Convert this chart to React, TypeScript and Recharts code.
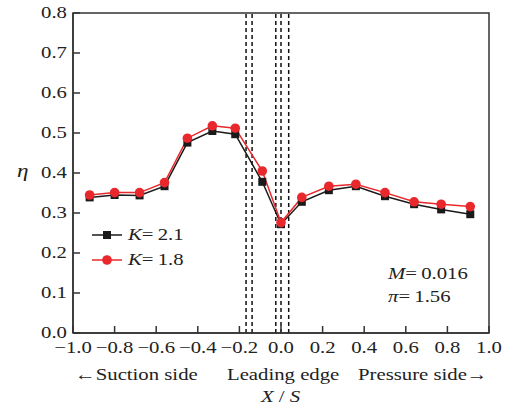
import React from 'react';
import {
  LineChart,
  Line,
  XAxis,
  YAxis,
  ReferenceLine,
  ReferenceArea,
  Legend,
} from 'recharts';

// X / S positions of the measuring holes
const xPos = [-0.92, -0.8, -0.68, -0.56, -0.45, -0.33, -0.22, -0.09, 0.0, 0.1, 0.23, 0.36, 0.5, 0.64, 0.77, 0.91];
// film cooling effectiveness for the two blowing ratios
const etaK21 = [0.339, 0.345, 0.344, 0.367, 0.476, 0.505, 0.497, 0.378, 0.272, 0.328, 0.357, 0.367, 0.342, 0.322, 0.309, 0.297];
const etaK18 = [0.345, 0.351, 0.351, 0.376, 0.487, 0.518, 0.512, 0.405, 0.276, 0.339, 0.367, 0.372, 0.351, 0.328, 0.322, 0.316];
// hole rows around the leading edge
const holeRows = [-0.168, -0.139, -0.025, 0.0, 0.037];

const xTicks = [-1, -0.8, -0.6, -0.4, -0.2, 0, 0.2, 0.4, 0.6, 0.8, 1];
const yTicks = [0, 0.1, 0.2, 0.3, 0.4, 0.5, 0.6, 0.7, 0.8];

const data = xPos.map((x, i) => ({ x, k21: etaK21[i], k18: etaK18[i] }));

const FONT = '"Liberation Serif", "Times New Roman", serif';
const FS = 17;
const STRETCH = 1.22;
const BLACK = '#1a1a1a';
const RED = '#e8282c';

const fmt = (v: number) => {
  const s = Math.abs(v).toFixed(1);
  return v < 0 ? `\u2212${s}` : s;
};

const XTick = (props: any) => {
  const { x, y, payload } = props;
  return (
    <text
      transform={`translate(${x},${y}) scale(${STRETCH},1)`}
      textAnchor="middle"
      dy="0.71em"
      fontFamily={FONT}
      fontSize={FS}
      fill="#222"
    >
      {fmt(payload.value)}
    </text>
  );
};

const YTick = (props: any) => {
  const { x, y, payload } = props;
  return (
    <text
      transform={`translate(${x},${y}) scale(${STRETCH},1)`}
      textAnchor="end"
      dy="0.32em"
      fontFamily={FONT}
      fontSize={FS}
      fill="#222"
    >
      {fmt(payload.value)}
    </text>
  );
};

const SquareDot = (props: any) => {
  const { cx, cy, index } = props;
  if (cx == null || cy == null) return null;
  return <rect key={`sq-${index}`} x={cx - 4} y={cy - 4} width={8} height={8} fill={BLACK} />;
};

const RoundDot = (props: any) => {
  const { cx, cy, index } = props;
  if (cx == null || cy == null) return null;
  return <circle key={`ci-${index}`} cx={cx} cy={cy} r={4.8} fill={RED} />;
};

const seriesOrder = ['k21', 'k18'];
const legendLabels: Record<string, string> = { k21: '2.1', k18: '1.8' };

const LegendContent = (props: any) => {
  const items = [...(props.payload || [])].sort(
    (a: any, b: any) => seriesOrder.indexOf(a.dataKey) - seriesOrder.indexOf(b.dataKey)
  );
  return (
    <div style={{ fontFamily: FONT, fontSize: FS }}>
      {items.map((p: any) => (
        <div key={p.dataKey} style={{ display: 'flex', alignItems: 'center', height: 25 }}>
          <svg width={32} height={12} style={{ display: 'block' }}>
            <line x1={1} y1={6} x2={31} y2={6} stroke={p.color} strokeWidth={1.5} />
            {p.dataKey === 'k21' ? (
              <rect x={12} y={2} width={8} height={8} fill={p.color} />
            ) : (
              <circle cx={16} cy={6} r={4.8} fill={p.color} />
            )}
          </svg>
          <span
            style={{
              marginLeft: 5,
              display: 'inline-block',
              transform: `scaleX(${STRETCH})`,
              transformOrigin: 'left center',
              color: '#222',
              whiteSpace: 'nowrap',
            }}
          >
            <i>K</i>=&thinsp;{legendLabels[p.dataKey]}
          </span>
        </div>
      ))}
    </div>
  );
};

const Label = ({ left, top, children, size = FS }: any) => (
  <div
    style={{
      position: 'absolute',
      left,
      top,
      fontFamily: FONT,
      fontSize: size,
      color: '#222',
      whiteSpace: 'nowrap',
      lineHeight: 1,
      transform: `scaleX(${STRETCH})`,
      transformOrigin: 'left top',
    }}
  >
    {children}
  </div>
);

export default function App() {
  return (
    <div style={{ position: 'absolute', left: 0, top: 0, width: 506, height: 413, background: '#fff' }}>
      <LineChart
        width={506}
        height={413}
        data={data}
        margin={{ top: 13, right: 17, bottom: 50, left: 13 }}
      >
        <XAxis
          dataKey="x"
          type="number"
          domain={[-1, 1]}
          ticks={xTicks}
          interval={0}
          height={30}
          tickSize={-7}
          tickMargin={15}
          tick={<XTick />}
          stroke="#333"
          strokeWidth={1.5}
        />
        <YAxis
          type="number"
          domain={[0, 0.8]}
          ticks={yTicks}
          interval={0}
          width={60}
          tickSize={-7}
          tickMargin={13}
          tick={<YTick />}
          stroke="#333"
          strokeWidth={1.5}
        />
        <ReferenceArea x1={-1} x2={1} y1={0} y2={0.8} fill="none" stroke="#333" strokeWidth={1.5} />
        {holeRows.map((h) => (
          <ReferenceLine key={h} x={h} stroke="#111" strokeWidth={1.5} strokeDasharray="4 3" />
        ))}
        <Legend
          layout="vertical"
          verticalAlign="middle"
          align="center"
          content={<LegendContent />}
          wrapperStyle={{ left: 91, top: 222, width: 120, height: 50 }}
        />
        <Line
          dataKey="k21"
          name="K=2.1"
          stroke={BLACK}
          strokeWidth={1.5}
          dot={<SquareDot />}
          activeDot={false}
          isAnimationActive={false}
        />
        <Line
          dataKey="k18"
          name="K=1.8"
          stroke={RED}
          strokeWidth={1.5}
          dot={<RoundDot />}
          activeDot={false}
          isAnimationActive={false}
        />
      </LineChart>

      <Label left={17} top={161} size={19}>
        <i>η</i>
      </Label>
      <Label left={388} top={265}>
        <i>M</i>=&thinsp;0.016
      </Label>
      <Label left={388} top={288}>
        <i>π</i>=&thinsp;1.56
      </Label>
      <Label left={75} top={366}>
        ←Suction side
      </Label>
      <Label left={227} top={366}>
        Leading edge
      </Label>
      <Label left={358} top={366}>
        Pressure side→
      </Label>
      <Label left={261} top={388}>
        <i>X</i> / <i>S</i>
      </Label>
    </div>
  );
}
